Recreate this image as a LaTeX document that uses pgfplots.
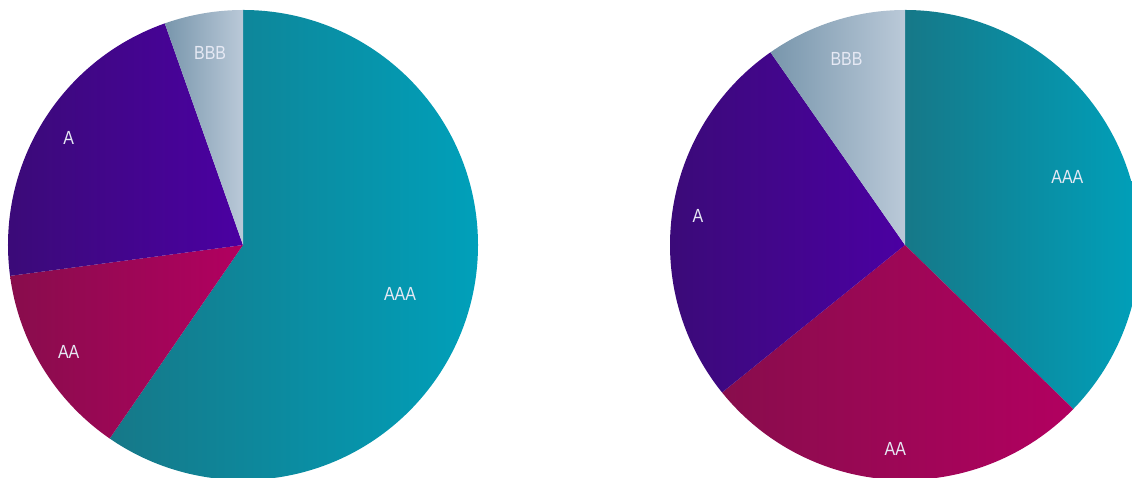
\documentclass[border=0pt]{standalone}
\usepackage{pgfplots}
\pgfplotsset{compat=1.18}
\usepackage{pgfplotstable}
\usepackage{fontspec}
\setmainfont{Liberation Sans}[FakeStretch=0.84]
\definecolor{AAAL}{HTML}{167888}
\definecolor{AAAR}{HTML}{00A0BA}
\definecolor{AAL}{HTML}{880D4C}
\definecolor{AAR}{HTML}{B20060}
\definecolor{AL}{HTML}{3A0B76}
\definecolor{AR}{HTML}{4B00A2}
\definecolor{BBBL}{HTML}{7896AC}
\definecolor{BBBR}{HTML}{BAC9D8}
\definecolor{labelc}{HTML}{E6E9F4}

% percentages of each pie, and label distance (fraction of radius)
\pgfplotstableread{
cat left right lposL lposR
AAA 59.6 37.3 0.70 0.75
AA 13.3 26.9 0.87 0.87
A 21.7 26.1 0.87 0.89
BBB 5.4 9.7 0.83 0.83
}\pies

\newcommand\drawpie[4]{%
  \xdef\curangle{90}%
  \foreach \i in {0,1,2,3}{%
    \pgfplotstablegetelem{\i}{#3}\of\pies \let\val\pgfplotsretval
    \pgfplotstablegetelem{\i}{#4}\of\pies \let\lp\pgfplotsretval
    \pgfplotstablegetelem{\i}{cat}\of\pies \let\cat\pgfplotsretval
    \pgfmathsetmacro\endangle{\curangle-3.6*\val}%
    \pgfmathsetmacro\midangle{(\curangle+\endangle)/2}%
    \path[draw=none, left color=\cat L, right color=\cat R]
      (axis cs:#1,#2) -- ++(\curangle:235pt)
      arc[start angle=\curangle, end angle=\endangle, radius=235pt] -- cycle;
    \path (axis cs:#1,#2) ++(\midangle:\lp*235pt)
      node[text=labelc, font=\fontsize{19}{23}\selectfont, inner sep=0pt] {\cat};
    \xdef\curangle{\endangle}%
  }%
}

\begin{document}
\begin{tikzpicture}
\useasboundingbox (0,0) rectangle (1132pt,478pt);
\begin{axis}[
  at={(0,0)}, anchor=south west,
  x=1pt, y=1pt, xmin=0, xmax=1132, ymin=0, ymax=478,
  scale only axis, hide axis, clip=true,
]
\pgfplotsextra{%
  \drawpie{243}{233}{left}{lposL}%
  \drawpie{905}{233}{right}{lposR}%
}
\end{axis}
\end{tikzpicture}
\end{document}
